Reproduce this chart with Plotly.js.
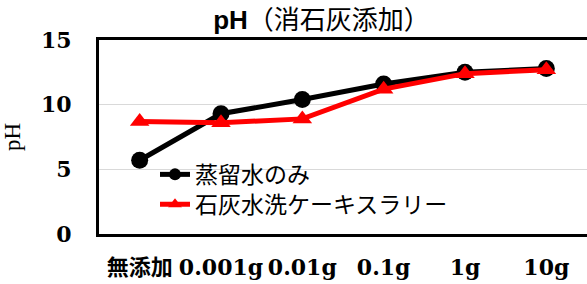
<!DOCTYPE html>
<html>
<head>
<meta charset="utf-8">
<script src="https://cdn.plot.ly/plotly-3.0.1.min.js"></script>
<style>html,body{margin:0;padding:0;background:#fff}#chart{width:587px;height:284px}</style>
</head>
<body>
<div id="chart"></div>
<script>
const categories = ["無添加", "0.001g", "0.01g", "0.1g", "1g", "10g"];
const distilledWater = [5.7, 9.3, 10.4, 11.6, 12.5, 12.8];
const limeSlurry = [8.7, 8.6, 8.9, 11.2, 12.4, 12.7];
const seriesNames = ["蒸留水のみ", "石灰水洗ケーキスラリー"];
const yTicks = [0, 5, 10, 15];

const traces = [
  {
    x: categories, y: distilledWater, name: seriesNames[0],
    type: "scatter", mode: "lines+markers", legend: "legend",
    line: {color: "#000000", width: 5},
    marker: {symbol: "circle", size: 17, color: "#000000"}
  },
  {
    x: categories, y: limeSlurry, name: seriesNames[1],
    type: "scatter", mode: "lines+markers", legend: "legend2",
    line: {color: "#ff0000", width: 5},
    marker: {symbol: "triangle-up", size: 17, color: "#ff0000"}
  }
];

const legendBase = {
  xanchor: "left", yanchor: "top",
  bgcolor: "rgba(0,0,0,0)", borderwidth: 0,
  font: {family: "Noto Sans CJK JP", size: 23, color: "#000"},
  itemsizing: "constant"
};

const layout = {
  width: 587, height: 284,
  margin: {l: 99, r: 0, t: 39.5, b: 49.5, pad: 0},
  paper_bgcolor: "#ffffff", plot_bgcolor: "#ffffff",
  showlegend: true,
  title: {
    text: "<b>pH</b>（消石灰添加）",
    font: {family: "Liberation Sans, Noto Sans CJK JP", size: 26, color: "#000"},
    x: 0.456, xref: "paper", xanchor: "center",
    y: 21, yref: "container", yanchor: "middle"
  },
  xaxis: {
    type: "category", range: [-0.5, 5.5],
    showline: true, linecolor: "#000", linewidth: 3, mirror: true,
    showgrid: false, ticks: "", zeroline: false, tickangle: 0,
    tickfont: {family: "DejaVu Serif, Noto Sans CJK JP", size: 22, color: "#000", weight: "bold"},
    ticklabelstandoff: 12
  },
  yaxis: {
    range: [0, 15], tickvals: yTicks, ticktext: yTicks.map(String),
    showline: true, linecolor: "#000", linewidth: 3, mirror: true,
    showgrid: true, gridcolor: "#d9d9d9", gridwidth: 1.5, zeroline: false,
    ticks: "",
    tickfont: {family: "DejaVu Serif", size: 22, color: "#000", weight: "bold"},
    ticklabelstandoff: 20,
    title: {text: "pH", font: {family: "Liberation Serif", size: 23, color: "#000"}, standoff: 28}
  },
  legend: Object.assign({}, legendBase, {x: (155 - 99) / 488, y: (234.5 - 153) / 195}),
  legend2: Object.assign({}, legendBase, {x: (155 - 99) / 488, y: (234.5 - 183) / 195})
};

Plotly.newPlot("chart", traces, layout, {displayModeBar: false, staticPlot: true});
</script>
</body>
</html>
